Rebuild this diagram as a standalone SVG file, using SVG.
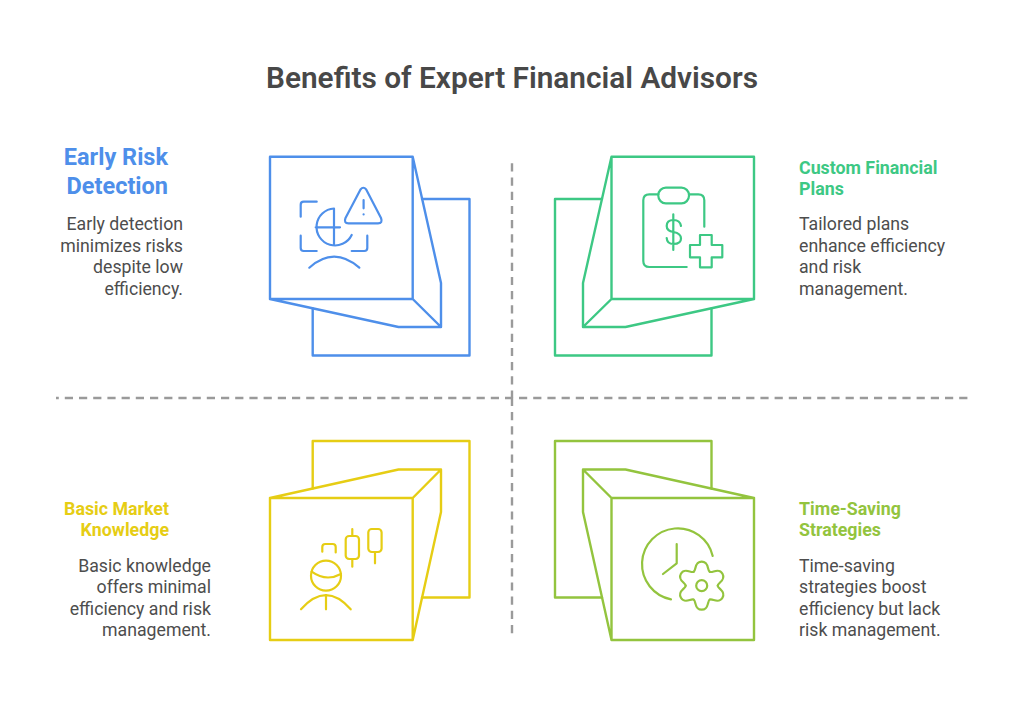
<svg xmlns="http://www.w3.org/2000/svg" xmlns:xlink="http://www.w3.org/1999/xlink" width="1024" height="726" viewBox="0 0 1024 726">
<style>
text{font-family:Roboto,"Liberation Sans",sans-serif}
.title{font-size:29.800px;font-weight:600;fill:#484848;text-anchor:middle}
.body{font-size:17.700px;fill:#4d4d4d}
.head{font-size:17.800px;font-weight:700}
.end{text-anchor:end}
.s{fill:none;stroke-width:2.4;stroke-linejoin:round;stroke-linecap:round}
.i{fill:none;stroke-width:2.200;stroke-linejoin:round;stroke-linecap:round}
.blue{stroke:#4e8fea}.green{stroke:#3dc884}.yellow{stroke:#e6cd14}.lime{stroke:#93c43e}
.dash{stroke:#9a9a9a;stroke-width:2.4;stroke-dasharray:8.200 6;fill:none}
</style>
<defs>
<path id="lobe" d="M-8 -13.900C-5.400 -15.400 -7.500 -24 0 -24S5.400 -15.400 8 -13.900"/>
</defs>
<rect width="1024" height="726" fill="#fff"/>
<text class="title" x="512" y="88">Benefits of Expert Financial Advisors</text>
<g id="connectors">
<path class="dash" d="M512 163.300V398"/>
<path class="dash" d="M512 397.800V633.300"/>
<path class="dash" stroke-dashoffset="5.400" d="M56 398H512"/>
<path class="dash" d="M519 398H968"/>
</g>
<g id="node-early-risk">
<path class="s blue" d="M312.700 308.500V355.500H469.500V199H422"/>
<path class="s blue" d="M270 156.700H412.700V299H270ZM412.700 156.700L441 283V327L412.700 299M270 299L398.500 327H441"/>
<g class="i blue">
<path d="M300.700 216.700V204.700Q300.700 201.700 303.700 201.700H316.700M300.700 235.700V248Q300.700 251 303.700 251H316.700M367.300 235.700V248Q367.300 251 364.300 251H351.700"/>
<path d="M334 208.500A18.500 18.500 0 1 0 351.700 235M334 208.500V245M315.700 227.300H340"/>
<path d="M309.300 267.700Q334 245.700 359.300 267.700"/>
<path d="M360.500 189.500Q363.300 186 366.200 189.500L381 218Q383 223.300 378 223.300H348.500Q343.500 223.300 345.500 218Z"/>
<path d="M363.600 200V208.300M363.600 214.300V214.400"/>
</g>
<text class="head end" style="font-size:23.500px" fill="#4e8fea" x="168" y="165"><tspan x="168">Early Risk</tspan><tspan x="168" dy="28.500">Detection</tspan></text>
<text class="body end" x="183"><tspan x="183" y="230">Early detection</tspan><tspan x="183" y="251.500">minimizes risks</tspan><tspan x="183" y="273">despite low</tspan><tspan x="183" y="294.500">efficiency.</tspan></text>
</g>
<g id="node-custom-plans">
<path class="s green" d="M711.500 308.500V355.500H555V199H602"/>
<path class="s green" d="M611.500 156.700H754V299H611.500ZM611.500 156.700L583 283V327L611.500 299M754 299L625.500 327H583"/>
<g class="i green">
<path d="M658.300 194.300H649.300Q643.300 194.300 643.300 200.300V261Q643.300 267 649.300 267H686.700M689 194.300H698.300Q704.300 194.300 704.300 200.300V226.700"/>
<rect x="658.300" y="187.700" width="30.700" height="15.600" rx="7.500"/>
<path d="M673.300 214.300V250M681 226Q680 220 673.500 220Q666.700 220 666.700 226Q666.700 231 673.500 232Q681 233.500 681 238.500Q681 244 673.500 244Q667 244 666.700 238"/>
<path d="M700 235H711.700V245H722.300V257.300H711.700V267.300H700V257.300H690V245H700Z"/>
</g>
<text class="head" fill="#3dc884" x="799"><tspan x="799" y="173.500">Custom Financial</tspan><tspan x="799" y="194.500">Plans</tspan></text>
<text class="body" x="799"><tspan x="799" y="230">Tailored plans</tspan><tspan x="799" y="251.500">enhance efficiency</tspan><tspan x="799" y="273">and risk</tspan><tspan x="799" y="294.500">management.</tspan></text>
</g>
<g id="node-basic-market">
<path class="s yellow" d="M312.700 488.500V441H469.500V597.500H422"/>
<path class="s yellow" d="M270 498H412.700V640H270ZM270 498L398.500 469.500H441L412.700 498M441 469.500V512L412.700 640"/>
<g class="i yellow">
<circle cx="326" cy="575.700" r="15"/>
<path d="M311.700 571.700Q326 582 341 574"/>
<path d="M301 609.300Q326 581 350.700 609.300M326 595V609.300"/>
<path d="M322.300 551.700V547Q322.300 544 325.300 544H332.700Q335.700 544 335.700 547V552.500"/>
<rect x="345.700" y="536" width="13.300" height="23" rx="3.500"/>
<path d="M352.300 529V536M352.300 559V566.700"/>
<rect x="368.300" y="529" width="13.300" height="23" rx="3.500"/>
<path d="M375 552V563.300"/>
</g>
<text class="head end" fill="#e6cd14" x="169"><tspan x="169" y="514.500">Basic Market</tspan><tspan x="169" y="536">Knowledge</tspan></text>
<text class="body end" x="211"><tspan x="211" y="571.500">Basic knowledge</tspan><tspan x="211" y="593">offers minimal</tspan><tspan x="211" y="614.500">efficiency and risk</tspan><tspan x="211" y="636">management.</tspan></text>
</g>
<g id="node-time-saving">
<path class="s lime" d="M711.500 488.500V441H555V597.500H602"/>
<path class="s lime" d="M611.500 498H754V640H611.500ZM754 498L625.500 469.500H583L611.500 498M583 469.500V512L611.500 640"/>
<g class="i lime">
<path d="M671 599.300A35.800 35.800 0 1 1 712.700 556"/>
<path d="M676.700 544V563.300L663 574"/>
<circle cx="701.700" cy="585.700" r="5.500"/>
<g transform="translate(701.700 585.700)">
<use xlink:href="#lobe" href="#lobe"/>
<use xlink:href="#lobe" href="#lobe" transform="rotate(60)"/>
<use xlink:href="#lobe" href="#lobe" transform="rotate(120)"/>
<use xlink:href="#lobe" href="#lobe" transform="rotate(180)"/>
<use xlink:href="#lobe" href="#lobe" transform="rotate(240)"/>
<use xlink:href="#lobe" href="#lobe" transform="rotate(300)"/>
</g>
</g>
<text class="head" fill="#93c43e" x="799"><tspan x="799" y="514.500">Time-Saving</tspan><tspan x="799" y="536">Strategies</tspan></text>
<text class="body" x="799"><tspan x="799" y="571.500">Time-saving</tspan><tspan x="799" y="593">strategies boost</tspan><tspan x="799" y="614.500">efficiency but lack</tspan><tspan x="799" y="636">risk management.</tspan></text>
</g>
</svg>
